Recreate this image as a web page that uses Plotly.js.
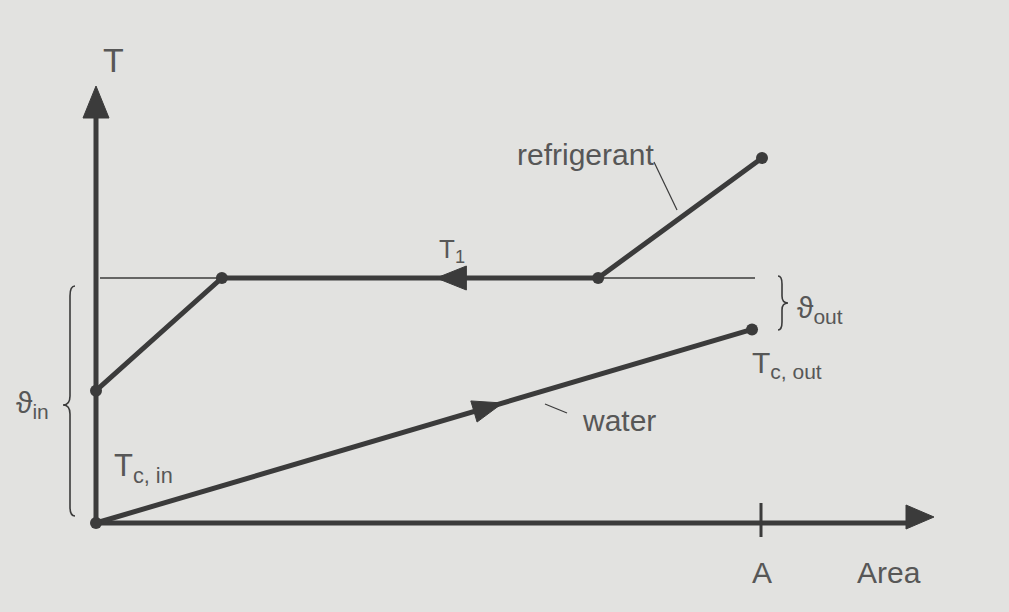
<!DOCTYPE html>
<html>
<head>
<meta charset="utf-8">
<script src="https://cdn.plot.ly/plotly-3.0.1.min.js"></script>
<style>
  html, body { margin: 0; padding: 0; background: #e2e2e0; }
  #chart { width: 1009px; height: 612px; }
</style>
</head>
<body>
<div id="chart"></div>
<script>
// Temperature profile along a condenser: refrigerant (desuperheating,
// condensing at T1, subcooling) against the cooling water stream.
const refrigArea = [1.0, 0.754, 0.189, 0.0];
const refrigTemp = [1.49, 1.0, 1.0, 0.54];
const waterArea = [0.0, 0.985];
const waterTemp = [0.0, 0.79];
const condensingTemp = 1.0;   // T1
const areaTotal = 1.0;        // A

// Figure scale: pixels per unit on each axis, origin position in pixels
const W = 1009, H = 612;
const ORIGIN_X = 96, ORIGIN_Y = 523;
const SX = 666, SY = 245;
const toX = p => (p - ORIGIN_X) / SX;
const toY = p => (ORIGIN_Y - p) / SY;

const ink = '#3b3b3b';
const textInk = '#575757';
const family = 'Liberation Sans, Arial, DejaVu Sans, sans-serif';
const font = size => ({ family, size, color: textInk });

// Filled triangle pointing along a segment, placed at fraction f of it
function flowArrow(x0, y0, x1, y1, f, len, half) {
  const px0 = x0 * SX, py0 = y0 * SY, px1 = x1 * SX, py1 = y1 * SY;
  const dx = px1 - px0, dy = py1 - py0, L = Math.hypot(dx, dy);
  const ux = dx / L, uy = dy / L, nx = -uy, ny = ux;
  const tx = px0 + dx * f, ty = py0 + dy * f;
  const bx = tx - ux * len, by = ty - uy * len;
  const pts = [[tx, ty], [bx + nx * half, by + ny * half], [bx - nx * half, by - ny * half], [tx, ty]];
  return {
    x: pts.map(p => p[0] / SX), y: pts.map(p => p[1] / SY),
    type: 'scatter', mode: 'lines', fill: 'toself', fillcolor: ink,
    line: { color: ink, width: 1 }, hoverinfo: 'skip', showlegend: false
  };
}

const traces = [
  {
    x: refrigArea, y: refrigTemp, type: 'scatter', mode: 'lines+markers',
    line: { color: ink, width: 5 }, marker: { color: ink, size: 12 },
    hoverinfo: 'skip', showlegend: false
  },
  {
    x: waterArea, y: waterTemp, type: 'scatter', mode: 'lines+markers',
    line: { color: ink, width: 5 }, marker: { color: ink, size: 12 },
    hoverinfo: 'skip', showlegend: false
  },
  flowArrow(refrigArea[1], refrigTemp[1], refrigArea[2], refrigTemp[2], 0.43, 30, 12),
  flowArrow(waterArea[0], waterTemp[0], waterArea[1], waterTemp[1], 0.62, 30, 11)
];

const line = (x0, y0, x1, y1, w) => ({
  type: 'line', xref: 'x', yref: 'y', x0, y0, x1, y1,
  line: { color: ink, width: w }, layer: 'below'
});
const path = (d, w) => ({
  type: 'path', xref: 'x', yref: 'y', path: d,
  line: { color: ink, width: w }, layer: 'below'
});
const tri = (pts) => ({
  type: 'path', xref: 'x', yref: 'y',
  path: 'M' + pts.map(p => toX(p[0]) + ',' + toY(p[1])).join(' L') + ' Z',
  fillcolor: ink, line: { color: ink, width: 1 }
});
// pixel-space polyline/curve converted to data units
const curve = (cmds, w) => path(cmds.map(c => c[0] + ' ' +
  c.slice(1).map(p => toX(p[0]) + ',' + toY(p[1])).join(' ')).join(' '), w);

const shapes = [
  // T1 reference line
  line(toX(100), condensingTemp, toX(755), condensingTemp, 1.3),
  // axes
  line(0, toY(526), 0, toY(112), 5),
  line(toX(93), 0, toX(910), 0, 5),
  tri([[96, 86], [83, 118], [109, 118]]),
  tri([[934, 517], [906, 505], [906, 529]]),
  // A tick
  line(areaTotal - 0.0015, toY(503), areaTotal - 0.0015, toY(537), 3),
  // leader lines
  line(toX(654), toY(162), toX(677), toY(210), 1.2),
  line(toX(545), toY(404), toX(567), toY(413), 1.2),
  // brace for the inlet temperature difference
  curve([['M', [75, 286]], ['Q', [70, 286], [70, 296]], ['L', [70, 396]],
         ['Q', [70, 405], [63, 405]], ['Q', [70, 405], [70, 414]],
         ['L', [70, 507]], ['Q', [70, 516], [75, 516]]], 1.6),
  // brace for the outlet temperature difference
  curve([['M', [778, 276]], ['Q', [782, 276], [782, 284]], ['L', [782, 296]],
         ['Q', [782, 303], [788, 303]], ['Q', [782, 303], [782, 310]],
         ['L', [782, 322]], ['Q', [782, 330], [778, 330]]], 1.6)
];

const label = (text, px, py, size, xanchor) => ({
  text, x: toX(px), y: toY(py), xref: 'x', yref: 'y',
  xanchor: xanchor || 'left', yanchor: 'middle', showarrow: false, font: font(size)
});

const annotations = [
  label('T', 101, 60, 34),
  label('refrigerant', 515, 154, 30),
  label('T<sub>1</sub>', 437, 250, 26),
  label('\u03D1<sub>out</sub>', 795, 309, 30),
  label('T<sub>c, out</sub>', 750, 364, 30),
  label('water', 580, 420, 30),
  label('T<sub>c, in</sub>', 112, 468, 31),
  label('\u03D1<sub>in</sub>', 14, 404, 30),
  label('A', 762, 572, 30, 'center'),
  label('Area', 855, 572, 30)
];

const hidden = { visible: false, fixedrange: true };
const layout = {
  width: W, height: H, autosize: false,
  margin: { l: 0, r: 0, t: 0, b: 0 },
  paper_bgcolor: '#e2e2e0', plot_bgcolor: '#e2e2e0',
  xaxis: Object.assign({ range: [toX(0), toX(W)] }, hidden),
  yaxis: Object.assign({ range: [toY(H), toY(0)] }, hidden),
  shapes, annotations, showlegend: false
};

Plotly.newPlot('chart', traces, layout, { staticPlot: true, displayModeBar: false });
</script>
</body>
</html>
